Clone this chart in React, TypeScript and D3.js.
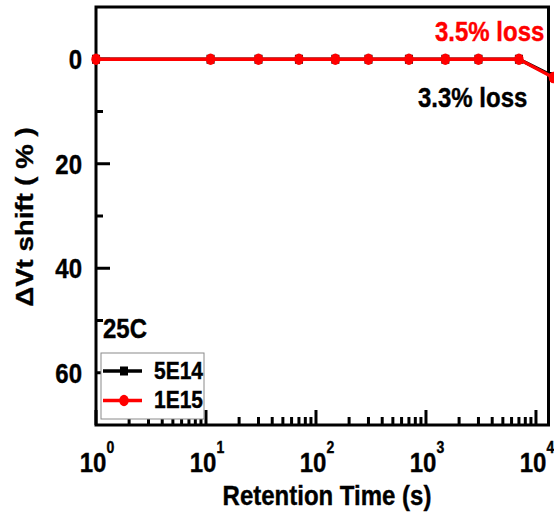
import React from "react";
import * as d3 from "d3";

// Retention times (s) and ΔVt shift (%) for the two implant doses
const times = [1, 11, 30, 70, 150, 300, 700, 1500, 3000, 7000, 14400];
const shift5E14 = [0, 0, 0, 0, 0, 0, 0, 0, 0, 0, 3.3];
const shift1E15 = [0, 0, 0, 0, 0, 0, 0, 0, 0, 0, 3.5];
const seriesNames = ["5E14", "1E15"];
const seriesColors = ["#000000", "#ff0000"];
const yMajorTicks = [0, 20, 40, 60];
const yMinorTicks = [10, 30, 50];
const xMajorExponents = [0, 1, 2, 3, 4];
const annotations = [
  { text: "3.5% loss", color: "#ff0000" },
  { text: "3.3% loss", color: "#000000" },
];

const W = 554;
const H = 518;
const left = 96;
const right = 548.5;
const top = 7;
const bottom = 425;
const FONT = "'Liberation Sans', Arial, sans-serif";
const SY = 1.15; // vertical text stretch

const x = d3.scaleLog().domain([1, 13000]).range([left, right]);
const y = d3.scaleLinear().domain([-10, 70]).range([top, bottom]);

function xMinorTicks(): number[] {
  const out: number[] = [];
  for (let e = 0; e <= 4; e++) {
    for (let m = 2; m <= 9; m++) {
      const v = m * Math.pow(10, e);
      if (v < 13000) out.push(v);
    }
  }
  return out;
}

function Txt(props: {
  x: number;
  y: number;
  size: number;
  anchor?: string;
  fill?: string;
  rotate?: boolean;
  children: React.ReactNode;
}) {
  const t = `translate(${props.x},${props.y}) scale(1,${SY})${props.rotate ? " rotate(-90)" : ""}`;
  const fill = props.fill || "#000";
  return (
    <text
      transform={t}
      fontFamily={FONT}
      fontWeight="bold"
      fontSize={props.size}
      textAnchor={props.anchor || "start"}
      fill={fill}
      stroke={fill}
      strokeWidth={0.35}
    >
      {props.children}
    </text>
  );
}

export default function App() {
  const line = d3
    .line<[number, number]>()
    .x((d) => x(d[0]))
    .y((d) => y(d[1]));
  const data5 = times.map((t, i) => [t, shift5E14[i]] as [number, number]);
  const data1 = times.map((t, i) => [t, shift1E15[i]] as [number, number]);

  return (
    <svg
      width={W}
      height={H}
      style={{ position: "absolute", left: 0, top: 0, background: "#fff" }}
    >
      {/* x ticks (inward) */}
      {xMinorTicks().map((v) => (
        <line key={"xm" + v} x1={x(v)} x2={x(v)} y1={bottom} y2={bottom - 8} stroke="#000" strokeWidth={3} />
      ))}
      {xMajorExponents.map((e) => (
        <line key={"xM" + e} x1={x(Math.pow(10, e))} x2={x(Math.pow(10, e))} y1={bottom} y2={bottom - 15} stroke="#000" strokeWidth={3} />
      ))}

      {/* y ticks (inward) */}
      {yMinorTicks.map((v) => (
        <line key={"ym" + v} x1={left} x2={left + 7} y1={y(v)} y2={y(v)} stroke="#000" strokeWidth={3} />
      ))}
      {yMajorTicks.map((v) => (
        <line key={"yM" + v} x1={left} x2={left + 14} y1={y(v)} y2={y(v)} stroke="#000" strokeWidth={3} />
      ))}

      {/* legend */}
      <rect x={101} y={353} width={103} height={66} fill="#fff" stroke="#8a8a8a" strokeWidth={1} />
      {seriesNames.map((name, i) => {
        const ly = 371 + i * 29.5;
        return (
          <g key={name}>
            <line x1={103} x2={142} y1={ly} y2={ly} stroke={seriesColors[i]} strokeWidth={3.5} />
            {i === 0 ? (
              <rect x={124 - 4} y={ly - 4.5} width={8} height={9} fill={seriesColors[i]} />
            ) : (
              <ellipse cx={124} cy={ly} rx={4.7} ry={5.8} fill={seriesColors[i]} />
            )}
            <Txt x={154} y={ly + 7.5} size={21}>
              {name}
            </Txt>
          </g>
        );
      })}

      {/* frame */}
      <rect x={left} y={top} width={right - left} height={bottom - top} fill="none" stroke="#000" strokeWidth={3} />

      {/* data, drawn over the frame */}
      <g>
        <path d={line(data5) || ""} fill="none" stroke={seriesColors[0]} strokeWidth={3.5} />
        {data5.map((d, i) => (
          <rect key={"s" + i} x={x(d[0]) - 4} y={y(d[1]) - 4.5} width={8} height={9} fill={seriesColors[0]} />
        ))}
        <path d={line(data1) || ""} fill="none" stroke={seriesColors[1]} strokeWidth={3.5} />
        {data1.map((d, i) => (
          <ellipse key={"c" + i} cx={x(d[0])} cy={y(d[1])} rx={4.7} ry={5.8} fill={seriesColors[1]} />
        ))}
      </g>

      {/* y tick labels */}
      {yMajorTicks.map((v) => (
        <Txt key={"yl" + v} x={82} y={y(v) + 10} size={24} anchor="end">
          {String(v)}
        </Txt>
      ))}

      {/* x tick labels */}
      {xMajorExponents.map((e) => (
        <Txt key={"xl" + e} x={x(Math.pow(10, e)) + 1} y={472} size={24} anchor="middle">
          10
          <tspan fontSize={14} dy={-16.5}>
            {String(e)}
          </tspan>
        </Txt>
      ))}

      {/* axis titles */}
      <Txt x={327} y={505} size={24} anchor="middle">
        Retention Time (s)
      </Txt>
      <Txt x={33} y={217} size={24} anchor="middle" rotate>
        ΔVt shift ( % )
      </Txt>

      {/* condition label and loss annotations */}
      <Txt x={103} y={338} size={24}>
        25C
      </Txt>
      <Txt x={435} y={41} size={24} fill={annotations[0].color}>
        {annotations[0].text}
      </Txt>
      <Txt x={418} y={107} size={24} fill={annotations[1].color}>
        {annotations[1].text}
      </Txt>
    </svg>
  );
}
